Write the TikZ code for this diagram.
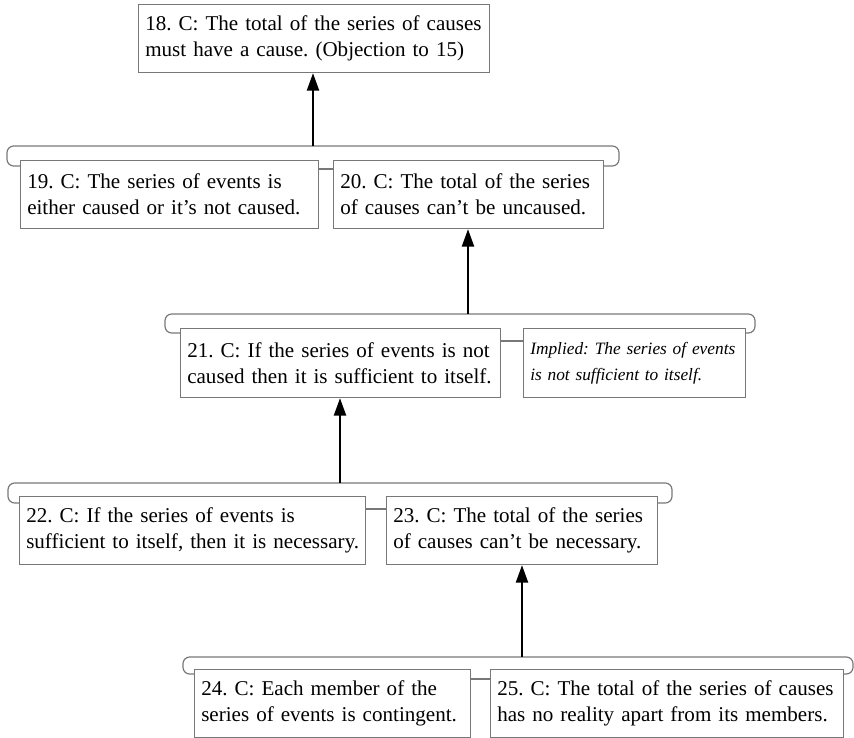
\documentclass[tikz,border=0pt]{standalone}
\usepackage{fontspec}
\setmainfont{Liberation Serif}
\usetikzlibrary{arrows.meta,calc}
\frenchspacing

\tikzset{
  claim/.style={draw={rgb,255:red,120;green,120;blue,120}, line width=0.9pt, fill=white,
    anchor=north west, inner xsep=5pt, inner ysep=0pt, align=left,
    font=\fontsize{15.8}{19.5}\selectfont},
  brk/.style={draw={rgb,255:red,120;green,120;blue,120}, line width=0.9pt, rounded corners=5pt},
  link/.style={draw={rgb,255:red,120;green,120;blue,120}, line width=0.9pt},
  up/.style={line width=1.5pt, -{Triangle[length=13pt,width=9pt]}}
}

\begin{document}
\begin{tikzpicture}[x=0.75pt,y=0.75pt,yscale=-1,xscale=1]
\useasboundingbox (0,0) rectangle (854,738);

% brackets
\draw[brk] (20,166) -| (7,146) -| (619,166) -- (603,166);
\draw[brk] (180,333) -| (165,314) -| (755,333) -- (745,333);
\draw[brk] (19,503) -| (8,483) -| (672,503) -- (657,503);
\draw[brk] (194,674) -| (183,657) -| (853,674) -- (843,674);

% claims
\node[claim, minimum width=263.25pt, minimum height=51pt, text width=253.25pt] (c18) at (138,4)
  {\mbox{18. C: The total of the series of causes}\\\mbox{must have a cause. (Objection to 15)}};
\node[claim, minimum width=223.5pt, minimum height=51pt, text width=213.5pt] (c19) at (20,160)
  {\mbox{19. C: The series of events is}\\\mbox{either caused or it’s not caused.}};
\node[claim, minimum width=202.5pt, minimum height=51pt, text width=192.5pt] (c20) at (333,160)
  {\mbox{20. C: The total of the series}\\\mbox{of causes can’t be uncaused.}};
\node[claim, minimum width=240pt, minimum height=51.75pt, text width=230pt] (c21) at (180,328)
  {\mbox{21. C: If the series of events is not}\\\mbox{caused then it is sufficient to itself.}};
\node[claim, minimum width=166.5pt, minimum height=51.75pt, text width=156.5pt,
  font=\fontsize{13}{19.5}\selectfont\itshape] (imp) at (523,328)
  {\mbox{Implied: The series of events}\\\mbox{is not sufficient to itself.}};
\node[claim, minimum width=259.5pt, minimum height=51pt, text width=249.5pt] (c22) at (19,496)
  {\mbox{22. C: If the series of events is}\\\mbox{sufficient to itself, then it is necessary.}};
\node[claim, minimum width=203.25pt, minimum height=51pt, text width=193.25pt] (c23) at (386,496)
  {\mbox{23. C: The total of the series}\\\mbox{of causes can’t be necessary.}};
\node[claim, minimum width=207pt, minimum height=51pt, text width=197pt] (c24) at (194,669)
  {\mbox{24. C: Each member of the}\\\mbox{series of events is contingent.}};
\node[claim, minimum width=264.75pt, minimum height=51pt, text width=254.75pt] (c25) at (490,669)
  {\mbox{25. C: The total of the series of causes}\\\mbox{has no reality apart from its members.}};

% links between co-premises
\draw[link] ($(c19.north east)+(0,9)$) -- ($(c20.north west)+(0,9)$);
\draw[link] ($(c21.north east)+(0,13)$) -- ($(imp.north west)+(0,13)$);
\draw[link] ($(c22.north east)+(0,13)$) -- ($(c23.north west)+(0,13)$);
\draw[link] ($(c24.north east)+(0,10)$) -- ($(c25.north west)+(0,10)$);

% support arrows
\coordinate (g1) at (313,146);
\coordinate (g2) at (468,314);
\coordinate (g3) at (340,483);
\coordinate (g4) at (522,657);
\draw[up] (g1) -- (g1 |- c18.south);
\draw[up] (g2) -- (g2 |- c20.south);
\draw[up] (g3) -- (g3 |- c21.south);
\draw[up] (g4) -- (g4 |- c23.south);
\end{tikzpicture}
\end{document}
